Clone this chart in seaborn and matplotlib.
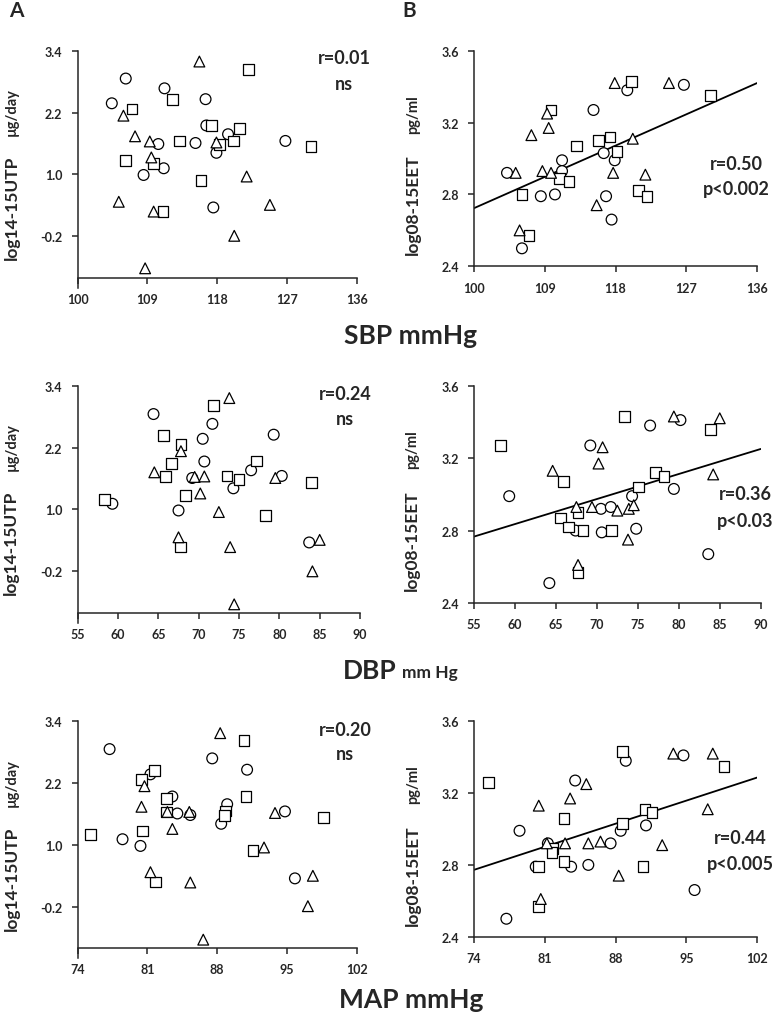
import numpy as np
import pandas as pd
import matplotlib
matplotlib.use("Agg")
import matplotlib.pyplot as plt
import seaborn as sns

sns.set_style("ticks")
plt.rcParams["font.family"] = ["Lato", "DejaVu Sans"]
plt.rcParams["axes.unicode_minus"] = False

W, H = 775, 1020

# ===== 数据：左列 log14-15UTP，右列 log08-15EET =====
# SBP vs UTP
SBP_UTP_O_X = [104.4, 106.2, 111.2, 116.5, 116.6, 119.4, 126.8, 110.4, 115.2, 117.9, 111.1, 108.5, 117.5]
SBP_UTP_O_Y = [2.38, 2.86, 2.67, 2.46, 1.95, 1.78, 1.65, 1.59, 1.61, 1.42, 1.12, 0.99, 0.36]
SBP_UTP_S_X = [122.0, 112.2, 107.0, 117.3, 120.9, 113.1, 120.1, 118.3, 130.1, 106.2, 109.8, 115.9, 111.0]
SBP_UTP_S_Y = [3.03, 2.46, 2.27, 1.95, 1.89, 1.65, 1.65, 1.58, 1.54, 1.27, 1.21, 0.89, 0.28]
SBP_UTP_T_X = [115.7, 105.9, 107.4, 109.3, 117.9, 109.5, 121.8, 105.3, 109.8, 124.8, 120.2, 108.7]
SBP_UTP_T_Y = [3.19, 2.14, 1.74, 1.64, 1.62, 1.33, 0.96, 0.47, 0.28, 0.41, -0.19, -0.82]

# DBP vs UTP
DBP_UTP_O_X = [64.4, 71.7, 70.5, 79.3, 70.7, 76.5, 80.3, 69.2, 74.3, 59.3, 67.5, 83.7]
DBP_UTP_O_Y = [2.85, 2.66, 2.37, 2.45, 1.93, 1.76, 1.65, 1.61, 1.41, 1.11, 0.98, 0.36]
DBP_UTP_S_X = [71.8, 65.6, 67.8, 66.6, 77.2, 65.9, 73.5, 75.0, 84.0, 68.4, 58.3, 78.3, 67.7]
DBP_UTP_S_Y = [3.01, 2.44, 2.26, 1.89, 1.94, 1.64, 1.65, 1.58, 1.53, 1.27, 1.19, 0.88, 0.27]
DBP_UTP_T_X = [73.8, 67.8, 64.5, 69.5, 70.7, 79.5, 70.2, 72.5, 67.5, 85.0, 73.9, 84.1, 74.4]
DBP_UTP_T_Y = [3.16, 2.13, 1.72, 1.63, 1.64, 1.61, 1.31, 0.95, 0.46, 0.41, 0.27, -0.20, -0.84]

# MAP vs UTP
MAP_UTP_O_X = [77.2, 81.3, 87.5, 91.0, 83.5, 89.0, 94.8, 84.0, 85.3, 88.4, 78.5, 80.3, 95.8]
MAP_UTP_O_Y = [2.86, 2.37, 2.68, 2.46, 1.94, 1.79, 1.65, 1.61, 1.58, 1.41, 1.11, 0.98, 0.35]
MAP_UTP_S_X = [90.7, 81.7, 80.4, 82.9, 90.9, 82.9, 88.8, 88.7, 98.7, 80.5, 75.3, 91.6, 81.8]
MAP_UTP_S_Y = [3.02, 2.45, 2.27, 1.90, 1.94, 1.64, 1.66, 1.57, 1.53, 1.27, 1.20, 0.89, 0.28]
MAP_UTP_T_X = [88.3, 80.7, 80.4, 83.0, 85.2, 93.8, 83.5, 92.7, 81.3, 85.3, 97.6, 97.1, 86.6]
MAP_UTP_T_Y = [3.17, 2.14, 1.74, 1.64, 1.64, 1.62, 1.31, 0.95, 0.47, 0.27, 0.40, -0.19, -0.84]

# SBP vs EET
SBP_EET_O_X = [104.2, 106.1, 108.5, 110.3, 111.2, 111.2, 115.2, 116.5, 116.8, 117.5, 117.9, 119.5, 126.7]
SBP_EET_O_Y = [2.92, 2.50, 2.79, 2.80, 2.99, 2.93, 3.27, 3.03, 2.79, 2.66, 2.99, 3.38, 3.41]
SBP_EET_S_X = [120.0, 130.1, 109.8, 115.8, 117.3, 113.0, 118.2, 110.9, 112.1, 106.1, 120.9, 122.0, 107.0]
SBP_EET_S_Y = [3.43, 3.35, 3.27, 3.10, 3.12, 3.07, 3.04, 2.89, 2.87, 2.80, 2.82, 2.79, 2.57]
SBP_EET_T_X = [117.9, 124.8, 109.3, 109.5, 107.3, 120.2, 105.3, 108.7, 109.8, 117.7, 121.8, 115.6, 105.8]
SBP_EET_T_Y = [3.42, 3.42, 3.25, 3.17, 3.13, 3.11, 2.92, 2.93, 2.92, 2.92, 2.91, 2.74, 2.60]

# DBP vs EET
DBP_EET_O_X = [59.3, 64.2, 69.2, 67.4, 70.5, 70.6, 71.7, 74.3, 74.8, 76.5, 80.2, 79.4, 83.6]
DBP_EET_O_Y = [2.99, 2.51, 3.27, 2.80, 2.92, 2.79, 2.93, 2.99, 2.81, 3.38, 3.41, 3.03, 2.67]
DBP_EET_S_X = [58.2, 65.9, 73.4, 83.9, 65.6, 66.5, 67.7, 68.3, 71.8, 77.2, 78.2, 75.1, 67.7]
DBP_EET_S_Y = [3.27, 3.07, 3.43, 3.36, 2.87, 2.82, 2.90, 2.80, 2.80, 3.12, 3.10, 3.04, 2.57]
DBP_EET_T_X = [64.6, 70.2, 70.7, 79.4, 85.0, 84.2, 67.5, 69.4, 72.5, 73.9, 74.5, 73.8, 67.7]
DBP_EET_T_Y = [3.13, 3.17, 3.26, 3.43, 3.42, 3.11, 2.93, 2.93, 2.91, 2.92, 2.94, 2.75, 2.61]

# MAP vs EET
MAP_EET_O_X = [77.2, 78.5, 80.1, 81.3, 83.6, 84.0, 85.3, 87.5, 88.5, 89.0, 91.0, 94.7, 95.8]
MAP_EET_O_Y = [2.50, 2.99, 2.79, 2.92, 2.79, 3.27, 2.80, 2.92, 2.99, 3.38, 3.02, 3.41, 2.66]
MAP_EET_S_X = [75.4, 88.7, 98.7, 82.9, 88.7, 90.9, 91.6, 81.8, 81.7, 82.9, 80.4, 90.7, 80.4]
MAP_EET_S_Y = [3.26, 3.43, 3.35, 3.06, 3.03, 3.11, 3.09, 2.89, 2.87, 2.82, 2.79, 2.79, 2.57]
MAP_EET_T_X = [93.7, 97.6, 85.1, 83.5, 80.4, 97.1, 81.2, 83.0, 85.3, 86.5, 92.6, 88.3, 80.6]
MAP_EET_T_Y = [3.42, 3.42, 3.25, 3.17, 3.13, 3.11, 2.92, 2.92, 2.92, 2.93, 2.91, 2.74, 2.61]

SBP_TICKS = [100, 109, 118, 127, 136]
DBP_TICKS = [55, 60, 65, 70, 75, 80, 85, 90]
MAP_TICKS = [74, 81, 88, 95, 102]
UTP_TICKS = [-0.2, 1.0, 2.2, 3.4]
EET_TICKS = [2.4, 2.8, 3.2, 3.6]

STATS_UTP = [("r=0.01", "ns"), ("r=0.24", "ns"), ("r=0.20", "ns")]
STATS_EET = [("r=0.50", "p<0.002"), ("r=0.36", "p<0.03"), ("r=0.44", "p<0.005")]

MARKERS = {"o": "o", "s": "s", "t": "^"}


def make_df(ox, oy, sx, sy, tx, ty):
    return pd.concat([
        pd.DataFrame({"x": ox, "y": oy, "grp": "o"}),
        pd.DataFrame({"x": sx, "y": sy, "grp": "s"}),
        pd.DataFrame({"x": tx, "y": ty, "grp": "t"}),
    ], ignore_index=True)


def px_axes(fig, l, t, r, b):
    return fig.add_axes([l / W, 1 - b / H, (r - l) / W, (b - t) / H])


def style_axis(ax, xticks, yticks, ylim, xcross=None):
    ax.set_xlim(xticks[0], xticks[-1])
    ax.set_ylim(*ylim)
    ax.set_xticks(xticks)
    ax.set_yticks(yticks)
    ax.set_yticklabels([f"{v:.1f}" for v in yticks])
    sns.despine(ax=ax)
    if xcross is not None:
        ax.spines["bottom"].set_position(("data", xcross))
    for s in ("left", "bottom"):
        ax.spines[s].set_linewidth(1.1)
    ax.tick_params(direction="out", length=4, width=1.1, labelsize=9, pad=7)
    for lab in ax.get_xticklabels() + ax.get_yticklabels():
        lab.set_fontweight("bold")
    ax.set_xlabel("")
    ax.set_ylabel("")


def scatter(ax, df):
    sns.scatterplot(data=df, x="x", y="y", style="grp", markers=MARKERS,
                    color="white", edgecolor="black", linewidth=0.9, s=60,
                    legend=False, ax=ax, zorder=3)


fig = plt.figure(figsize=(W / 100, H / 100), dpi=100)

left_data = [
    make_df(SBP_UTP_O_X, SBP_UTP_O_Y, SBP_UTP_S_X, SBP_UTP_S_Y, SBP_UTP_T_X, SBP_UTP_T_Y),
    make_df(DBP_UTP_O_X, DBP_UTP_O_Y, DBP_UTP_S_X, DBP_UTP_S_Y, DBP_UTP_T_X, DBP_UTP_T_Y),
    make_df(MAP_UTP_O_X, MAP_UTP_O_Y, MAP_UTP_S_X, MAP_UTP_S_Y, MAP_UTP_T_X, MAP_UTP_T_Y),
]
right_data = [
    make_df(SBP_EET_O_X, SBP_EET_O_Y, SBP_EET_S_X, SBP_EET_S_Y, SBP_EET_T_X, SBP_EET_T_Y),
    make_df(DBP_EET_O_X, DBP_EET_O_Y, DBP_EET_S_X, DBP_EET_S_Y, DBP_EET_T_X, DBP_EET_T_Y),
    make_df(MAP_EET_O_X, MAP_EET_O_Y, MAP_EET_S_X, MAP_EET_S_Y, MAP_EET_T_X, MAP_EET_T_Y),
]
xticks_rows = [SBP_TICKS, DBP_TICKS, MAP_TICKS]

left_boxes = [(77.7, 51.7, 356.7, 288.9), (77.7, 386.7, 360.0, 623.9), (77.7, 722.3, 356.7, 959.2)]
right_boxes = [(474, 51.7, 757, 267.3), (474, 386.7, 760.7, 604), (474, 722.3, 757.3, 937.7)]
left_stat_pos = [(344, 59, 85), (345, 395, 420), (345, 730, 755)]
right_stat_pos = [(736, 164, 190), (745, 495, 522), (740, 839, 865)]

for i in range(3):
    # ===== 左列：UTP =====
    ax = px_axes(fig, *left_boxes[i])
    scatter(ax, left_data[i])
    style_axis(ax, xticks_rows[i], UTP_TICKS, (-1.2, 3.4), xcross=-1.0)
    ax.text(-0.235, 0.34, "log14-15UTP", transform=ax.transAxes, rotation=90,
            ha="center", va="center", fontsize=12.5, fontweight="bold")
    ax.text(-0.235, 0.745, "\u00b5g/day", transform=ax.transAxes, rotation=90,
            ha="center", va="center", fontsize=10.5, fontweight="bold")
    x, y1, y2 = left_stat_pos[i]
    fig.text(x / W, 1 - y1 / H, STATS_UTP[i][0], ha="center", va="center",
             fontsize=13, fontweight="bold")
    fig.text(x / W, 1 - y2 / H, STATS_UTP[i][1], ha="center", va="center",
             fontsize=13, fontweight="bold")

    # ===== 右列：EET + 回归线 =====
    ax = px_axes(fig, *right_boxes[i])
    ax.set_xlim(xticks_rows[i][0], xticks_rows[i][-1])
    df = right_data[i]
    sns.regplot(data=df, x="x", y="y", scatter=False, ci=None, truncate=False,
                color="black", line_kws={"lw": 1.3, "zorder": 2}, ax=ax)
    scatter(ax, df)
    style_axis(ax, xticks_rows[i], EET_TICKS, (2.4, 3.6))
    ax.text(-0.216, 0.29, "log08-15EET", transform=ax.transAxes, rotation=90,
            ha="center", va="center", fontsize=12.5, fontweight="bold")
    ax.text(-0.216, 0.71, "pg/ml", transform=ax.transAxes, rotation=90,
            ha="center", va="center", fontsize=10.5, fontweight="bold")
    x, y1, y2 = right_stat_pos[i]
    fig.text(x / W, 1 - y1 / H, STATS_EET[i][0], ha="center", va="center",
             fontsize=13, fontweight="bold")
    fig.text(x / W, 1 - y2 / H, STATS_EET[i][1], ha="center", va="center",
             fontsize=13, fontweight="bold")

# ===== 横轴标题与面板字母 =====
fig.text(411 / W, 1 - 336 / H, "SBP mmHg", ha="center", va="center",
         fontsize=19, fontweight="bold")
fig.text(397 / W, 1 - 671 / H, "DBP", ha="right", va="center",
         fontsize=19, fontweight="bold")
fig.text(402 / W, 1 - 673 / H, "mm Hg", ha="left", va="center",
         fontsize=12.5, fontweight="bold")
fig.text(411 / W, 1 - 1000 / H, "MAP mmHg", ha="center", va="center",
         fontsize=19, fontweight="bold")
fig.text(16 / W, 1 - 11 / H, "A", ha="center", va="center",
         fontsize=15, fontweight="bold")
fig.text(409 / W, 1 - 11 / H, "B", ha="center", va="center",
         fontsize=15, fontweight="bold")

plt.savefig("out.png", dpi=100)
plt.close()
print("Saved: out.png")
